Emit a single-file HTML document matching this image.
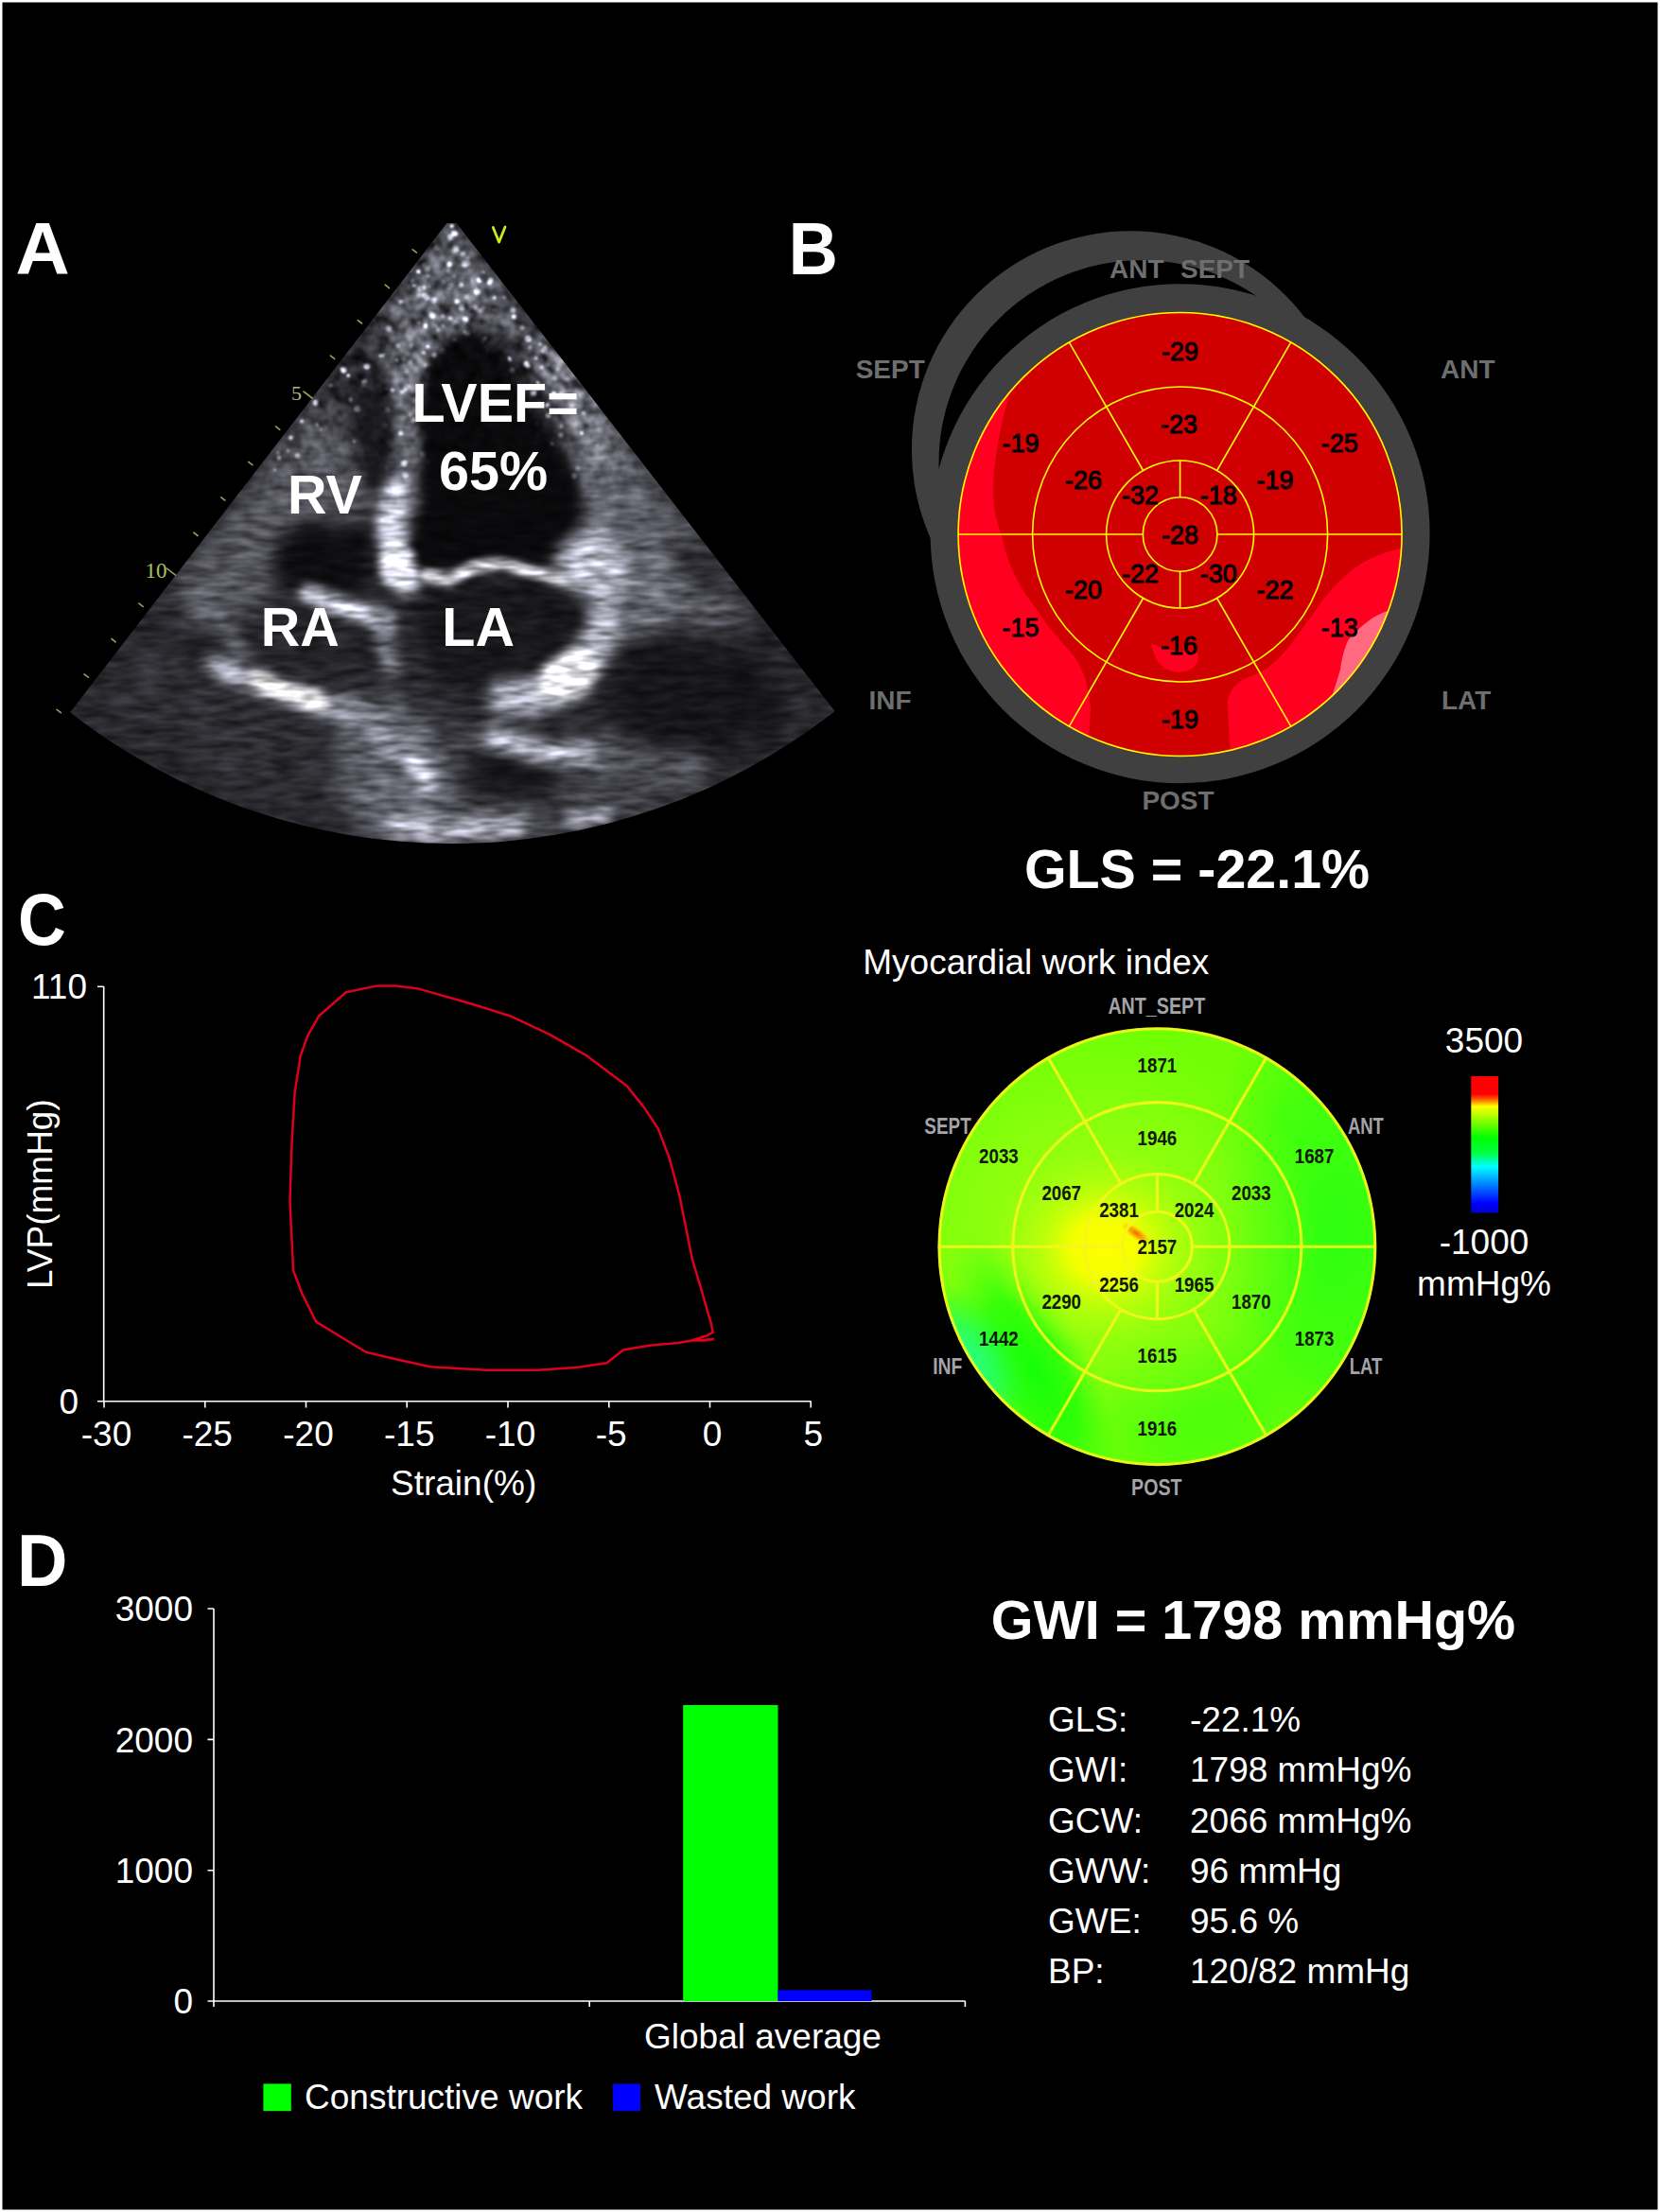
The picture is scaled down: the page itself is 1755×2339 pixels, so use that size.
<!DOCTYPE html><html><head><meta charset="utf-8"><title>Figure</title><style>html,body{margin:0;padding:0;background:#fff;overflow:hidden}svg{display:block}text{font-family:"Liberation Sans",Arial,sans-serif}</style></head><body>
<svg width="1755" height="2339" viewBox="0 0 1755 2339">
<rect x="2.5" y="2.5" width="1750" height="2334" fill="#000"/>
<text transform="translate(16.6,290) scale(1.07,1.045)" font-size="74" font-weight="bold" fill="#fff">A</text>
<text transform="translate(833.8,290) scale(0.975,1.045)" font-size="74" font-weight="bold" fill="#fff">B</text>
<text transform="translate(19.1,999.3) scale(0.95,1.045)" font-size="74" font-weight="bold" fill="#fff">C</text>
<text transform="translate(18.0,1676.8) scale(1.0,1.045)" font-size="74" font-weight="bold" fill="#fff">D</text>
<defs><clipPath id="sec"><path d="M472.5,236 L74.1,753.3 A656,656 0 0 0 882.6,752 L482.5,236 Z"/></clipPath>
<filter id="bd" filterUnits="userSpaceOnUse" x="0" y="150" width="1000" height="850" color-interpolation-filters="sRGB"><feGaussianBlur stdDeviation="1.3"/></filter>
<filter id="b3.5" filterUnits="userSpaceOnUse" x="0" y="150" width="1000" height="850" color-interpolation-filters="sRGB"><feGaussianBlur stdDeviation="3.5"/></filter>
<filter id="b5" filterUnits="userSpaceOnUse" x="0" y="150" width="1000" height="850" color-interpolation-filters="sRGB"><feGaussianBlur stdDeviation="5"/></filter>
<filter id="b6" filterUnits="userSpaceOnUse" x="0" y="150" width="1000" height="850" color-interpolation-filters="sRGB"><feGaussianBlur stdDeviation="6"/></filter>
<filter id="b7" filterUnits="userSpaceOnUse" x="0" y="150" width="1000" height="850" color-interpolation-filters="sRGB"><feGaussianBlur stdDeviation="7"/></filter>
<filter id="b8" filterUnits="userSpaceOnUse" x="0" y="150" width="1000" height="850" color-interpolation-filters="sRGB"><feGaussianBlur stdDeviation="8"/></filter>
<filter id="b9" filterUnits="userSpaceOnUse" x="0" y="150" width="1000" height="850" color-interpolation-filters="sRGB"><feGaussianBlur stdDeviation="9"/></filter>
<filter id="b10" filterUnits="userSpaceOnUse" x="0" y="150" width="1000" height="850" color-interpolation-filters="sRGB"><feGaussianBlur stdDeviation="10"/></filter>
<filter id="b12" filterUnits="userSpaceOnUse" x="0" y="150" width="1000" height="850" color-interpolation-filters="sRGB"><feGaussianBlur stdDeviation="12"/></filter>
<filter id="b14" filterUnits="userSpaceOnUse" x="0" y="150" width="1000" height="850" color-interpolation-filters="sRGB"><feGaussianBlur stdDeviation="14"/></filter>
<filter id="spkN" x="0" y="0" width="100%" height="100%" color-interpolation-filters="sRGB"><feTurbulence type="fractalNoise" baseFrequency="0.075 0.075" numOctaves="2" seed="7" result="n"/><feColorMatrix in="n" type="matrix" values="1 0 0 0 0  1 0 0 0 0  1 0 0 0 0  0 0 0 0 1" result="ng"/><feComposite in="SourceGraphic" in2="ng" operator="arithmetic" k1="2.3" k2="-0.12" k3="0" k4="0"/></filter>
<filter id="spkF" x="0" y="0" width="100%" height="100%" color-interpolation-filters="sRGB"><feTurbulence type="fractalNoise" baseFrequency="0.035 0.13" numOctaves="2" seed="11" result="n"/><feColorMatrix in="n" type="matrix" values="1 0 0 0 0  1 0 0 0 0  1 0 0 0 0  0 0 0 0 1" result="ng"/><feComposite in="SourceGraphic" in2="ng" operator="arithmetic" k1="1.3" k2="0.35" k3="0" k4="0"/></filter>
<linearGradient id="nm" x1="0" y1="0" x2="0" y2="1"><stop offset="0" stop-color="#fff"/><stop offset="0.27" stop-color="#fff"/><stop offset="0.5" stop-color="#000"/><stop offset="1" stop-color="#000"/></linearGradient>
<mask id="nearmask" maskUnits="userSpaceOnUse" x="40" y="220" width="880" height="700"><rect x="40" y="220" width="880" height="700" fill="url(#nm)"/></mask>
<g id="art">
<rect x="40" y="220" width="880" height="700" fill="rgb(40,40,45)"/>
<polygon points="477,236 400,340 420,420 470,360 540,345 600,420 640,520 700,520 560,345" fill="rgb(92,92,101)" filter="url(#b10)"/>
<polyline points="436,380 432,450 425,520 415,560" fill="none" stroke="rgb(112,112,122)" stroke-width="34" stroke-linecap="round" stroke-linejoin="round" filter="url(#b9)"/>
<polyline points="590,380 622,450 640,520 648,580" fill="none" stroke="rgb(112,112,122)" stroke-width="46" stroke-linecap="round" stroke-linejoin="round" filter="url(#b10)"/>
<polygon points="640,500 700,510 790,640 750,690 650,660 625,600" fill="rgb(92,92,101)" filter="url(#b14)"/>
<polygon points="345,420 262,520 175,632 205,668 285,640 296,575 380,552 402,520 375,470" fill="rgb(86,86,94)" filter="url(#b12)"/>
<polygon points="150,660 110,740 200,800 300,850 420,880 420,770 330,770 250,740" fill="rgb(46,46,51)" filter="url(#b14)"/>
<polygon points="420,760 420,890 560,892 700,860 760,800 640,780 520,770" fill="rgb(66,66,73)" filter="url(#b14)"/>
<g filter="url(#bd)"><circle cx="555.9" cy="449.1" r="3.3" fill="rgb(205,205,223)"/><circle cx="537.2" cy="498.2" r="1.8" fill="rgb(173,173,188)"/><circle cx="486.3" cy="370.1" r="1.6" fill="rgb(144,144,157)"/><circle cx="567.1" cy="378.7" r="1.9" fill="rgb(211,211,229)"/><circle cx="481.8" cy="247.4" r="2.0" fill="rgb(232,232,252)"/><circle cx="396.4" cy="488.2" r="2.6" fill="rgb(197,197,214)"/><circle cx="558.4" cy="358.2" r="3.3" fill="rgb(222,222,241)"/><circle cx="319.1" cy="445.7" r="2.2" fill="rgb(155,155,169)"/><circle cx="295.0" cy="484.2" r="2.3" fill="rgb(186,186,202)"/><circle cx="462.1" cy="261.7" r="3.3" fill="rgb(142,142,155)"/><circle cx="631.2" cy="470.7" r="2.2" fill="rgb(160,160,174)"/><circle cx="583.3" cy="469.6" r="1.7" fill="rgb(228,228,248)"/><circle cx="458.3" cy="317.5" r="3.3" fill="rgb(159,159,173)"/><circle cx="506.9" cy="340.2" r="1.9" fill="rgb(125,125,137)"/><circle cx="496.1" cy="367.5" r="2.4" fill="rgb(168,168,183)"/><circle cx="615.2" cy="417.8" r="3.4" fill="rgb(172,172,187)"/><circle cx="600.1" cy="401.8" r="2.7" fill="rgb(177,177,193)"/><circle cx="479.3" cy="265.1" r="2.8" fill="rgb(173,173,188)"/><circle cx="532.4" cy="480.0" r="2.2" fill="rgb(194,194,211)"/><circle cx="377.9" cy="432.4" r="3.3" fill="rgb(174,174,189)"/><circle cx="552.6" cy="460.5" r="1.9" fill="rgb(209,209,227)"/><circle cx="566.6" cy="449.2" r="2.9" fill="rgb(123,123,134)"/><circle cx="468.0" cy="344.0" r="2.0" fill="rgb(198,198,215)"/><circle cx="475.0" cy="287.0" r="2.7" fill="rgb(187,187,203)"/><circle cx="522.6" cy="327.6" r="1.7" fill="rgb(190,190,207)"/><circle cx="483.1" cy="319.1" r="2.6" fill="rgb(230,230,250)"/><circle cx="447.4" cy="480.3" r="2.8" fill="rgb(162,162,176)"/><circle cx="492.1" cy="337.8" r="3.3" fill="rgb(231,231,251)"/><circle cx="429.8" cy="446.6" r="1.6" fill="rgb(132,132,144)"/><circle cx="428.6" cy="502.3" r="3.2" fill="rgb(188,188,205)"/><circle cx="577.2" cy="373.6" r="2.3" fill="rgb(156,156,170)"/><circle cx="370.5" cy="422.5" r="2.4" fill="rgb(153,153,167)"/><circle cx="409.8" cy="433.0" r="3.0" fill="rgb(148,148,161)"/><circle cx="404.8" cy="375.7" r="2.1" fill="rgb(189,189,206)"/><circle cx="518.4" cy="422.0" r="2.9" fill="rgb(133,133,145)"/><circle cx="429.4" cy="392.5" r="2.4" fill="rgb(161,161,175)"/><circle cx="468.4" cy="371.7" r="3.2" fill="rgb(182,182,198)"/><circle cx="489.9" cy="268.6" r="2.6" fill="rgb(201,201,219)"/><circle cx="471.6" cy="450.7" r="2.3" fill="rgb(165,165,180)"/><circle cx="314.7" cy="482.0" r="2.9" fill="rgb(169,169,184)"/><circle cx="538.7" cy="380.5" r="1.9" fill="rgb(175,175,191)"/><circle cx="491.1" cy="341.8" r="1.7" fill="rgb(146,146,159)"/><circle cx="491.1" cy="279.2" r="3.4" fill="rgb(200,200,218)"/><circle cx="507.1" cy="295.7" r="2.8" fill="rgb(229,229,249)"/><circle cx="388.3" cy="409.7" r="1.7" fill="rgb(132,132,144)"/><circle cx="553.0" cy="440.8" r="1.8" fill="rgb(169,169,184)"/><circle cx="500.4" cy="387.4" r="3.3" fill="rgb(163,163,178)"/><circle cx="479.4" cy="450.5" r="2.6" fill="rgb(191,191,208)"/><circle cx="452.2" cy="366.7" r="1.9" fill="rgb(202,202,220)"/><circle cx="339.5" cy="454.5" r="1.8" fill="rgb(134,134,146)"/><circle cx="394.8" cy="444.1" r="2.5" fill="rgb(157,157,171)"/><circle cx="304.6" cy="477.0" r="1.7" fill="rgb(137,137,149)"/><circle cx="542.1" cy="328.0" r="3.1" fill="rgb(136,136,148)"/><circle cx="385.2" cy="403.7" r="2.8" fill="rgb(212,212,230)"/><circle cx="500.7" cy="443.9" r="2.3" fill="rgb(131,131,143)"/><circle cx="470.1" cy="490.6" r="1.6" fill="rgb(174,174,189)"/><circle cx="457.3" cy="343.7" r="3.2" fill="rgb(137,137,149)"/><circle cx="419.7" cy="380.7" r="1.7" fill="rgb(226,226,246)"/><circle cx="586.2" cy="400.0" r="2.8" fill="rgb(174,174,189)"/><circle cx="515.8" cy="381.7" r="1.9" fill="rgb(143,143,156)"/><circle cx="511.8" cy="368.4" r="2.8" fill="rgb(169,169,184)"/><circle cx="474.0" cy="492.0" r="1.7" fill="rgb(147,147,160)"/><circle cx="436.4" cy="297.2" r="1.9" fill="rgb(178,178,194)"/><circle cx="387.9" cy="387.3" r="3.3" fill="rgb(188,188,205)"/><circle cx="508.9" cy="401.7" r="3.2" fill="rgb(155,155,169)"/><circle cx="469.3" cy="314.4" r="2.0" fill="rgb(127,127,139)"/><circle cx="428.1" cy="411.1" r="2.6" fill="rgb(223,223,242)"/><circle cx="563.8" cy="415.5" r="3.3" fill="rgb(203,203,221)"/><circle cx="397.5" cy="462.1" r="2.3" fill="rgb(134,134,146)"/><circle cx="444.0" cy="305.3" r="2.8" fill="rgb(152,152,166)"/><circle cx="503.7" cy="304.1" r="1.6" fill="rgb(125,125,137)"/><circle cx="456.8" cy="333.4" r="3.3" fill="rgb(190,190,207)"/><circle cx="363.1" cy="391.2" r="3.1" fill="rgb(203,203,221)"/><circle cx="458.9" cy="463.4" r="3.0" fill="rgb(133,133,145)"/><circle cx="572.8" cy="388.0" r="2.4" fill="rgb(170,170,185)"/><circle cx="433.5" cy="438.5" r="2.0" fill="rgb(160,160,174)"/><circle cx="575.2" cy="370.5" r="3.1" fill="rgb(191,191,208)"/><circle cx="385.1" cy="406.9" r="2.5" fill="rgb(124,124,135)"/><circle cx="410.8" cy="347.2" r="3.2" fill="rgb(142,142,155)"/><circle cx="524.6" cy="486.8" r="2.3" fill="rgb(121,121,132)"/><circle cx="450.8" cy="386.8" r="2.9" fill="rgb(165,165,180)"/><circle cx="606.5" cy="503.6" r="2.8" fill="rgb(197,197,214)"/><circle cx="497.1" cy="397.1" r="2.9" fill="rgb(155,155,169)"/><circle cx="504.4" cy="308.5" r="3.3" fill="rgb(223,223,242)"/><circle cx="592.9" cy="459.9" r="2.7" fill="rgb(144,144,157)"/><circle cx="475.7" cy="250.7" r="2.8" fill="rgb(223,223,242)"/><circle cx="502.4" cy="325.1" r="2.9" fill="rgb(163,163,178)"/><circle cx="503.2" cy="375.7" r="1.9" fill="rgb(192,192,209)"/><circle cx="579.5" cy="439.1" r="2.9" fill="rgb(167,167,182)"/><circle cx="485.2" cy="412.1" r="2.1" fill="rgb(152,152,166)"/><circle cx="451.7" cy="283.1" r="2.7" fill="rgb(141,141,154)"/><circle cx="494.2" cy="353.8" r="2.8" fill="rgb(203,203,221)"/><circle cx="476.0" cy="302.9" r="3.3" fill="rgb(156,156,170)"/><circle cx="532.7" cy="485.0" r="2.0" fill="rgb(200,200,218)"/><circle cx="562.2" cy="471.1" r="3.0" fill="rgb(202,202,220)"/><circle cx="448.1" cy="304.5" r="2.4" fill="rgb(198,198,215)"/><circle cx="437.6" cy="444.6" r="2.5" fill="rgb(230,230,250)"/><circle cx="436.1" cy="422.9" r="3.3" fill="rgb(163,163,178)"/><circle cx="477.2" cy="381.5" r="3.0" fill="rgb(186,186,202)"/><circle cx="441.4" cy="382.9" r="2.5" fill="rgb(125,125,137)"/><circle cx="407.9" cy="411.1" r="1.7" fill="rgb(151,151,165)"/><circle cx="474.7" cy="319.7" r="2.6" fill="rgb(164,164,179)"/><circle cx="294.0" cy="479.1" r="2.2" fill="rgb(121,121,132)"/><circle cx="451.8" cy="314.9" r="2.8" fill="rgb(178,178,194)"/><circle cx="467.8" cy="298.2" r="2.4" fill="rgb(188,188,205)"/><circle cx="442.5" cy="287.3" r="2.3" fill="rgb(220,220,239)"/><circle cx="583.2" cy="505.9" r="1.9" fill="rgb(209,209,227)"/><circle cx="603.0" cy="411.4" r="2.0" fill="rgb(168,168,183)"/><circle cx="494.2" cy="272.7" r="2.7" fill="rgb(135,135,147)"/><circle cx="560.5" cy="367.3" r="1.7" fill="rgb(141,141,154)"/><circle cx="414.9" cy="412.8" r="2.3" fill="rgb(209,209,227)"/><circle cx="480.4" cy="341.3" r="2.9" fill="rgb(130,130,142)"/><circle cx="496.6" cy="325.9" r="2.3" fill="rgb(174,174,189)"/><circle cx="307.5" cy="462.8" r="2.4" fill="rgb(177,177,193)"/><circle cx="520.1" cy="417.1" r="2.3" fill="rgb(180,180,196)"/><circle cx="629.4" cy="464.0" r="3.4" fill="rgb(154,154,168)"/><circle cx="476.1" cy="396.0" r="2.0" fill="rgb(172,172,187)"/><circle cx="437.8" cy="302.0" r="1.9" fill="rgb(231,231,251)"/><circle cx="430.7" cy="374.5" r="2.9" fill="rgb(150,150,164)"/><circle cx="453.8" cy="488.8" r="1.9" fill="rgb(135,135,147)"/><circle cx="498.9" cy="297.5" r="1.6" fill="rgb(124,124,135)"/><circle cx="475.4" cy="481.1" r="1.7" fill="rgb(187,187,203)"/><circle cx="507.9" cy="328.5" r="2.7" fill="rgb(145,145,158)"/><circle cx="518.9" cy="419.2" r="2.9" fill="rgb(127,127,139)"/><circle cx="480.1" cy="246.5" r="3.2" fill="rgb(173,173,188)"/><circle cx="476.2" cy="336.6" r="2.4" fill="rgb(185,185,201)"/><circle cx="487.9" cy="425.7" r="2.6" fill="rgb(196,196,213)"/><circle cx="552.9" cy="410.9" r="2.1" fill="rgb(132,132,144)"/><circle cx="448.0" cy="373.5" r="2.1" fill="rgb(192,192,209)"/><circle cx="518.8" cy="296.3" r="2.7" fill="rgb(203,203,221)"/><circle cx="423.7" cy="319.6" r="2.3" fill="rgb(220,220,239)"/><circle cx="593.9" cy="498.2" r="2.5" fill="rgb(131,131,143)"/><circle cx="604.6" cy="429.1" r="2.4" fill="rgb(131,131,143)"/><circle cx="533.6" cy="314.1" r="2.4" fill="rgb(151,151,165)"/><circle cx="480.2" cy="359.5" r="2.3" fill="rgb(192,192,209)"/><circle cx="408.6" cy="494.8" r="2.6" fill="rgb(136,136,148)"/><circle cx="517.4" cy="298.5" r="2.4" fill="rgb(225,225,245)"/><circle cx="513.1" cy="357.6" r="1.8" fill="rgb(234,234,254)"/><circle cx="510.2" cy="416.4" r="1.9" fill="rgb(200,200,218)"/><circle cx="368.4" cy="397.2" r="1.8" fill="rgb(207,207,225)"/><circle cx="499.2" cy="392.6" r="2.5" fill="rgb(220,220,239)"/><circle cx="563.0" cy="454.5" r="1.6" fill="rgb(228,228,248)"/><circle cx="558.0" cy="386.9" r="2.4" fill="rgb(216,216,235)"/><circle cx="423.4" cy="458.0" r="2.5" fill="rgb(201,201,219)"/><circle cx="333.7" cy="425.9" r="3.0" fill="rgb(216,216,235)"/><circle cx="480.4" cy="292.1" r="1.8" fill="rgb(143,143,156)"/><circle cx="483.1" cy="263.1" r="2.9" fill="rgb(177,177,193)"/><circle cx="425.2" cy="414.0" r="2.3" fill="rgb(188,188,205)"/><circle cx="454.1" cy="303.0" r="1.9" fill="rgb(126,126,138)"/><circle cx="489.3" cy="268.5" r="2.4" fill="rgb(170,170,185)"/><circle cx="495.2" cy="278.5" r="2.7" fill="rgb(216,216,235)"/><circle cx="547.0" cy="447.6" r="2.7" fill="rgb(122,122,133)"/><circle cx="476.2" cy="251.5" r="2.9" fill="rgb(164,164,179)"/><circle cx="552.1" cy="346.0" r="2.8" fill="rgb(144,144,157)"/><circle cx="474.8" cy="279.8" r="2.8" fill="rgb(218,218,237)"/><circle cx="566.8" cy="459.1" r="3.3" fill="rgb(211,211,229)"/><circle cx="519.7" cy="410.2" r="3.2" fill="rgb(202,202,220)"/><circle cx="514.5" cy="371.1" r="1.9" fill="rgb(181,181,197)"/><circle cx="616.8" cy="436.2" r="2.2" fill="rgb(226,226,246)"/><circle cx="487.2" cy="301.3" r="2.5" fill="rgb(212,212,230)"/><circle cx="592.7" cy="417.4" r="2.6" fill="rgb(139,139,152)"/><circle cx="461.5" cy="412.3" r="2.0" fill="rgb(153,153,167)"/><circle cx="508.9" cy="362.5" r="1.8" fill="rgb(203,203,221)"/><circle cx="430.7" cy="408.3" r="3.0" fill="rgb(155,155,169)"/><circle cx="493.6" cy="313.6" r="2.7" fill="rgb(124,124,135)"/><circle cx="442.7" cy="341.0" r="1.7" fill="rgb(197,197,214)"/><circle cx="458.4" cy="319.6" r="1.8" fill="rgb(159,159,173)"/><circle cx="511.2" cy="359.4" r="1.8" fill="rgb(219,219,238)"/><circle cx="426.2" cy="380.3" r="2.5" fill="rgb(159,159,173)"/><circle cx="578.5" cy="428.2" r="2.4" fill="rgb(195,195,212)"/><circle cx="468.6" cy="334.0" r="2.2" fill="rgb(161,161,175)"/><circle cx="511.2" cy="325.0" r="1.7" fill="rgb(129,129,141)"/><circle cx="407.4" cy="449.7" r="1.7" fill="rgb(172,172,187)"/><circle cx="450.3" cy="344.6" r="2.5" fill="rgb(218,218,237)"/><circle cx="522.6" cy="483.7" r="1.9" fill="rgb(174,174,189)"/><circle cx="427.3" cy="490.0" r="3.3" fill="rgb(228,228,248)"/><circle cx="568.7" cy="404.7" r="1.8" fill="rgb(205,205,223)"/><circle cx="462.6" cy="348.4" r="2.3" fill="rgb(149,149,162)"/><circle cx="571.5" cy="363.9" r="2.0" fill="rgb(172,172,187)"/><circle cx="451.3" cy="284.7" r="3.4" fill="rgb(155,155,169)"/><circle cx="576.3" cy="505.4" r="3.1" fill="rgb(210,210,228)"/><circle cx="444.7" cy="305.1" r="2.5" fill="rgb(121,121,132)"/><circle cx="556.2" cy="385.0" r="2.9" fill="rgb(204,204,222)"/><circle cx="449.0" cy="312.7" r="3.3" fill="rgb(176,176,192)"/><circle cx="593.7" cy="451.0" r="2.1" fill="rgb(137,137,149)"/><circle cx="480.3" cy="261.5" r="1.6" fill="rgb(154,154,168)"/><circle cx="420.3" cy="365.0" r="2.7" fill="rgb(152,152,166)"/><circle cx="374.3" cy="466.8" r="1.8" fill="rgb(188,188,205)"/><circle cx="442.5" cy="311.9" r="2.6" fill="rgb(130,130,142)"/><circle cx="509.9" cy="438.0" r="2.2" fill="rgb(152,152,166)"/><circle cx="505.9" cy="421.2" r="1.8" fill="rgb(171,171,186)"/><circle cx="461.3" cy="344.5" r="1.7" fill="rgb(160,160,174)"/><circle cx="435.0" cy="365.1" r="2.4" fill="rgb(149,149,162)"/><circle cx="558.9" cy="433.9" r="2.7" fill="rgb(125,125,137)"/><circle cx="532.2" cy="447.6" r="2.9" fill="rgb(201,201,219)"/><circle cx="335.4" cy="448.7" r="2.0" fill="rgb(176,176,192)"/><circle cx="543.5" cy="431.4" r="2.4" fill="rgb(228,228,248)"/><circle cx="495.6" cy="415.7" r="2.2" fill="rgb(202,202,220)"/><circle cx="490.7" cy="454.0" r="3.1" fill="rgb(136,136,148)"/><circle cx="510.5" cy="424.3" r="3.3" fill="rgb(212,212,230)"/><circle cx="541.1" cy="392.0" r="2.8" fill="rgb(193,193,210)"/><circle cx="559.6" cy="487.2" r="2.5" fill="rgb(176,176,192)"/><circle cx="452.7" cy="291.6" r="2.1" fill="rgb(154,154,168)"/><circle cx="478.1" cy="238.9" r="2.2" fill="rgb(208,208,226)"/><circle cx="506.0" cy="382.2" r="1.8" fill="rgb(180,180,196)"/><circle cx="402.4" cy="376.0" r="1.8" fill="rgb(170,170,185)"/><circle cx="492.9" cy="472.3" r="2.2" fill="rgb(228,228,248)"/><circle cx="509.7" cy="292.4" r="1.6" fill="rgb(149,149,162)"/><circle cx="591.9" cy="420.3" r="1.9" fill="rgb(233,233,253)"/><circle cx="579.2" cy="386.4" r="2.2" fill="rgb(209,209,227)"/><circle cx="576.0" cy="367.7" r="2.5" fill="rgb(197,197,214)"/><circle cx="349.9" cy="407.9" r="2.2" fill="rgb(146,146,159)"/><circle cx="522.8" cy="314.8" r="2.1" fill="rgb(202,202,220)"/><circle cx="510.1" cy="293.9" r="2.8" fill="rgb(125,125,137)"/><circle cx="567.5" cy="412.2" r="2.0" fill="rgb(146,146,159)"/><circle cx="585.6" cy="416.2" r="2.5" fill="rgb(210,210,228)"/><circle cx="543.4" cy="334.9" r="2.5" fill="rgb(221,221,240)"/><circle cx="611.1" cy="495.6" r="2.9" fill="rgb(128,128,140)"/><circle cx="511.0" cy="378.8" r="2.8" fill="rgb(124,124,135)"/><circle cx="459.0" cy="375.5" r="2.7" fill="rgb(206,206,224)"/><circle cx="290.7" cy="496.8" r="1.8" fill="rgb(142,142,155)"/><circle cx="511.0" cy="287.7" r="2.2" fill="rgb(167,167,182)"/><circle cx="538.0" cy="378.6" r="1.9" fill="rgb(221,221,240)"/><circle cx="433.6" cy="383.4" r="2.5" fill="rgb(176,176,192)"/><circle cx="468.4" cy="458.7" r="2.4" fill="rgb(211,211,229)"/><circle cx="448.1" cy="279.6" r="2.2" fill="rgb(170,170,185)"/><circle cx="615.3" cy="458.0" r="2.0" fill="rgb(233,233,253)"/><circle cx="491.5" cy="351.7" r="2.1" fill="rgb(222,222,241)"/><circle cx="589.7" cy="391.2" r="2.4" fill="rgb(184,184,200)"/><circle cx="488.4" cy="325.2" r="3.4" fill="rgb(191,191,208)"/></g>
<polygon points="492,350 510,353 535,380 549,404 568,436 585,469 600,490 611,515 612,540 606,562 594,582 578,597 560,600 520,590 480,600 458,602 440,596 432,578 440,560 448,530 446,500 444,447 448,404 457,378 475,357" fill="rgb(10,10,12)" filter="url(#b6)"/>
<polygon points="380,400 402,395 416,450 413,515 396,528 376,480" fill="rgb(26,26,30)" filter="url(#b8)"/>
<polygon points="300,560 340,552 385,560 392,600 385,628 340,632 300,622 290,590" fill="rgb(14,14,17)" filter="url(#b10)"/>
<ellipse cx="330" cy="672" rx="60" ry="36" transform="rotate(10 330 672)" fill="rgb(36,36,40)" filter="url(#b9)"/>
<ellipse cx="218" cy="692" rx="26" ry="22" transform="rotate(30 218 692)" fill="rgb(30,30,34)" filter="url(#b10)"/>
<polygon points="452,625 500,612 560,612 610,622 628,660 610,705 570,725 510,728 462,715 440,680 440,645" fill="rgb(24,24,27)" filter="url(#b8)"/>
<polygon points="660,680 720,660 800,690 840,760 760,800 680,790 640,740" fill="rgb(22,22,25)" filter="url(#b14)"/>
<ellipse cx="540" cy="820" rx="56" ry="28" transform="rotate(5 540 820)" fill="rgb(24,24,27)" filter="url(#b10)"/>
<ellipse cx="740" cy="600" rx="40" ry="22" transform="rotate(40 740 600)" fill="rgb(40,40,45)" filter="url(#b12)"/>
<polyline points="450,608 475,613 500,600 530,596 560,604 590,611 612,616" fill="none" stroke="rgb(245,245,255)" stroke-width="11" stroke-linecap="round" stroke-linejoin="round" filter="url(#b3.5)"/>
<polyline points="418,520 412,560 420,595 430,615" fill="none" stroke="rgb(215,215,234)" stroke-width="26" stroke-linecap="round" stroke-linejoin="round" filter="url(#b6)"/>
<ellipse cx="420" cy="600" rx="18" ry="24" transform="rotate(0 420 600)" fill="rgb(240,240,255)" filter="url(#b5)"/>
<polyline points="325,628 366,643 408,657" fill="none" stroke="rgb(235,235,255)" stroke-width="17" stroke-linecap="round" stroke-linejoin="round" filter="url(#b6)"/>
<polyline points="402,652 408,680 414,706" fill="none" stroke="rgb(125,125,137)" stroke-width="18" stroke-linecap="round" stroke-linejoin="round" filter="url(#b7)"/>
<polyline points="213,632 240,668 258,696" fill="none" stroke="rgb(100,100,110)" stroke-width="15" stroke-linecap="round" stroke-linejoin="round" filter="url(#b7)"/>
<polyline points="222,703 270,722 330,742 378,758" fill="none" stroke="rgb(175,175,191)" stroke-width="20" stroke-linecap="round" stroke-linejoin="round" filter="url(#b7)"/>
<polyline points="272,719 305,732 340,743" fill="none" stroke="rgb(255,255,255)" stroke-width="17" stroke-linecap="round" stroke-linejoin="round" filter="url(#b5)"/>
<polyline points="626,575 648,629 638,670 608,715 574,734 535,738" fill="none" stroke="rgb(185,185,201)" stroke-width="36" stroke-linecap="round" stroke-linejoin="round" filter="url(#b8)"/>
<polygon points="640,560 700,580 720,640 690,670 650,660 635,610" fill="rgb(105,105,115)" filter="url(#b10)"/>
<ellipse cx="600" cy="714" rx="34" ry="22" transform="rotate(-35 600 714)" fill="rgb(250,250,255)" filter="url(#b6)"/>
<ellipse cx="628" cy="600" rx="40" ry="30" transform="rotate(20 628 600)" fill="rgb(185,185,201)" filter="url(#b9)"/>
<polygon points="365,735 440,745 470,800 480,892 400,885 360,850" fill="rgb(100,100,110)" filter="url(#b12)"/>
<polyline points="520,780 580,797 636,797" fill="none" stroke="rgb(195,195,212)" stroke-width="20" stroke-linecap="round" stroke-linejoin="round" filter="url(#b7)"/>
<polyline points="368,748 410,785 436,806 456,828" fill="none" stroke="rgb(150,150,164)" stroke-width="20" stroke-linecap="round" stroke-linejoin="round" filter="url(#b8)"/>
<polyline points="436,806 455,827" fill="none" stroke="rgb(200,200,218)" stroke-width="16" stroke-linecap="round" stroke-linejoin="round" filter="url(#b6)"/>
<polyline points="415,874 480,878 550,874" fill="none" stroke="rgb(185,185,201)" stroke-width="22" stroke-linecap="round" stroke-linejoin="round" filter="url(#b8)"/>
<polyline points="603,868 640,862" fill="none" stroke="rgb(170,170,185)" stroke-width="14" stroke-linecap="round" stroke-linejoin="round" filter="url(#b6)"/>
<polyline points="640,800 740,815" fill="none" stroke="rgb(80,80,88)" stroke-width="30" stroke-linecap="round" stroke-linejoin="round" filter="url(#b10)"/>
</g></defs>
<g clip-path="url(#sec)"><use href="#art" filter="url(#spkF)"/><g mask="url(#nearmask)"><use href="#art" filter="url(#spkN)"/></g></g>
<g stroke="#9a9e5c" stroke-width="1.6" stroke-linecap="round">
<line x1="436.2" y1="263.8" x2="440.4" y2="267.1"/>
<line x1="407.2" y1="301.2" x2="411.5" y2="304.6"/>
<line x1="378.3" y1="338.7" x2="382.6" y2="342.0"/>
<line x1="349.4" y1="376.1" x2="353.6" y2="379.4"/>
<line x1="321.0" y1="414.0" x2="330.1" y2="421.0"/>
<line x1="291.5" y1="450.9" x2="295.8" y2="454.3"/>
<line x1="262.6" y1="488.4" x2="266.9" y2="491.7"/>
<line x1="233.7" y1="525.8" x2="237.9" y2="529.1"/>
<line x1="204.8" y1="563.2" x2="209.0" y2="566.5"/>
<line x1="176.4" y1="601.1" x2="185.5" y2="608.1"/>
<line x1="146.9" y1="638.1" x2="151.2" y2="641.4"/>
<line x1="118.0" y1="675.5" x2="122.2" y2="678.8"/>
<line x1="89.0" y1="712.9" x2="93.3" y2="716.2"/>
<line x1="60.1" y1="750.3" x2="64.4" y2="753.6"/>
</g>
<text x="308" y="423" font-size="22" fill="#b4b488" style="font-family:'Liberation Serif',serif">5</text>
<text x="153.5" y="610.5" font-size="23" fill="#a6c45c" style="font-family:'Liberation Serif',serif">10</text>
<path d="M521.3,240.5 L527.6,256 L534,240" fill="none" stroke="#c6ee1c" stroke-width="2.8" stroke-linejoin="round" stroke-linecap="round"/>
<text x="435.5" y="445.8" font-size="57.5" font-weight="bold" fill="#fff" text-anchor="start" >LVEF=</text>
<text x="464" y="517.6" font-size="57.5" font-weight="bold" fill="#fff" text-anchor="start" >65%</text>
<text x="304" y="543.3" font-size="57.5" font-weight="bold" fill="#fff" text-anchor="start" >RV</text>
<text x="275.8" y="682.6" font-size="57.5" font-weight="bold" fill="#fff" text-anchor="start" >RA</text>
<text x="467.3" y="682.6" font-size="57.5" font-weight="bold" fill="#fff" text-anchor="start" >LA</text>
<circle cx="1247.6" cy="564.2" r="264" fill="#404040"/>
<path fill="#404040" fill-rule="evenodd" d="M963.9,475.5 a231.3,231.3 0 1 0 462.6,0 a231.3,231.3 0 1 0 -462.6,0 Z M992.5,489.4 a214.2,214.2 0 1 0 428.4,0 a214.2,214.2 0 1 0 -428.4,0 Z"/>
<defs><clipPath id="bclip"><circle cx="1247.6" cy="565.0" r="235.3"/></clipPath></defs>
<g clip-path="url(#bclip)"><circle cx="1247.6" cy="565.0" r="236.0" fill="#d00000"/>
<path fill="#ff0020" d="M1080,380 L1064.7,426 C1058,450 1052,480 1050.2,509 C1049,535 1054,555 1059.3,567 C1062,580 1066,600 1084.6,628.4 L1109.9,664.6 L1135.2,693.5 C1146,708 1152,730 1153.2,751 L1151,780 L1100,800 L1000,700 L1000,400 Z"/>
<path fill="#ff0020" d="M1490,575 L1481,579.6 C1465,584 1455,588 1446,592.3 C1435,598 1425,606 1417,614 C1408,622 1400,632 1395.4,639.3 L1366.5,679 C1358,690 1348,701 1337.6,708 C1328,714 1316,716 1308.6,722.4 C1300,730 1298,738 1297.8,744 L1299.6,780 L1302,810 L1500,810 Z"/>
<path fill="#ff6a80" d="M1480,640 L1465.8,646.5 C1456,650 1450,654 1446,657.3 C1436,665 1428,672 1424.3,679 C1420,690 1418,700 1417,708 L1409.8,731.4 L1405,745 L1500,745 Z"/>
<path fill="#ff0020" d="M1217,680 C1219,692 1224,702 1232,707 C1242,712 1254,712 1262,706 C1268,700 1268,692 1264,688 C1250,690 1232,688 1217,680 Z"/>
</g>
<g stroke="#ffff00" stroke-width="1.6" fill="none">
<circle cx="1247.6" cy="565.0" r="39.3"/>
<circle cx="1247.6" cy="565.0" r="78"/>
<circle cx="1247.6" cy="565.0" r="156"/>
<circle cx="1247.6" cy="565.0" r="234.5"/>
<line x1="1325.6" y1="565.0" x2="1482.1" y2="565.0"/>
<line x1="1286.6" y1="497.5" x2="1364.8" y2="361.9"/>
<line x1="1208.6" y1="497.5" x2="1130.3" y2="361.9"/>
<line x1="1169.6" y1="565.0" x2="1013.1" y2="565.0"/>
<line x1="1208.6" y1="632.5" x2="1130.3" y2="768.1"/>
<line x1="1286.6" y1="632.5" x2="1364.8" y2="768.1"/>
<line x1="1286.9" y1="565.0" x2="1325.6" y2="565.0"/>
<line x1="1247.6" y1="525.7" x2="1247.6" y2="487.0"/>
<line x1="1208.3" y1="565.0" x2="1169.6" y2="565.0"/>
<line x1="1247.6" y1="604.3" x2="1247.6" y2="643.0"/>
</g>
<g font-size="27" fill="#000" stroke="#000" stroke-width="0.9" text-anchor="middle">
<text x="1247.6" y="574.7">-28</text>
<text x="1205.6" y="533.3">-32</text>
<text x="1288.2" y="533.3">-18</text>
<text x="1205.6" y="616.0">-22</text>
<text x="1288.2" y="616.0">-30</text>
<text x="1246.6" y="458.2">-23</text>
<text x="1145.6" y="516.7">-26</text>
<text x="1348.0" y="516.7">-19</text>
<text x="1145.6" y="632.7">-20</text>
<text x="1348.0" y="632.7">-22</text>
<text x="1246.6" y="691.9">-16</text>
<text x="1247.6" y="380.7">-29</text>
<text x="1079.0" y="478.1">-19</text>
<text x="1416.2" y="478.1">-25</text>
<text x="1079.0" y="673.3">-15</text>
<text x="1416.2" y="673.3">-13</text>
<text x="1247.6" y="769.7">-19</text>
</g>
<text x="1173" y="294" font-size="28" font-weight="bold" fill="#6e6e6e" text-anchor="start" >ANT</text>
<text x="1248" y="294" font-size="28" font-weight="bold" fill="#6e6e6e" text-anchor="start" >SEPT</text>
<text x="904.7" y="399.5" font-size="28" font-weight="bold" fill="#6e6e6e" text-anchor="start" >SEPT</text>
<text x="1523" y="399.5" font-size="28" font-weight="bold" fill="#6e6e6e" text-anchor="start" >ANT</text>
<text x="918.4" y="750.4" font-size="28" font-weight="bold" fill="#6e6e6e" text-anchor="start" >INF</text>
<text x="1524" y="750.4" font-size="28" font-weight="bold" fill="#6e6e6e" text-anchor="start" >LAT</text>
<text x="1207.4" y="856.2" font-size="28" font-weight="bold" fill="#6e6e6e" text-anchor="start" >POST</text>
<text x="1082.9" y="938.5" font-size="57.4" font-weight="bold" fill="#fff" text-anchor="start" >GLS = -22.1%</text>
<g stroke="#fff" stroke-width="1.6" fill="none">
<path d="M109.7,1043 V1482 M103,1043.3 H109.7 M103,1481.7 H857.5"/>
<line x1="110.0" y1="1481.7" x2="110.0" y2="1488.5"/>
<line x1="216.8" y1="1481.7" x2="216.8" y2="1488.5"/>
<line x1="323.5" y1="1481.7" x2="323.5" y2="1488.5"/>
<line x1="430.2" y1="1481.7" x2="430.2" y2="1488.5"/>
<line x1="537.0" y1="1481.7" x2="537.0" y2="1488.5"/>
<line x1="643.8" y1="1481.7" x2="643.8" y2="1488.5"/>
<line x1="750.5" y1="1481.7" x2="750.5" y2="1488.5"/>
<line x1="857.2" y1="1481.7" x2="857.2" y2="1488.5"/>
</g>
<text x="112.5" y="1528.5" font-size="37" font-weight="normal" fill="#fff" text-anchor="middle" >-30</text>
<text x="219.2" y="1528.5" font-size="37" font-weight="normal" fill="#fff" text-anchor="middle" >-25</text>
<text x="326.0" y="1528.5" font-size="37" font-weight="normal" fill="#fff" text-anchor="middle" >-20</text>
<text x="432.8" y="1528.5" font-size="37" font-weight="normal" fill="#fff" text-anchor="middle" >-15</text>
<text x="539.5" y="1528.5" font-size="37" font-weight="normal" fill="#fff" text-anchor="middle" >-10</text>
<text x="646.2" y="1528.5" font-size="37" font-weight="normal" fill="#fff" text-anchor="middle" >-5</text>
<text x="753.0" y="1528.5" font-size="37" font-weight="normal" fill="#fff" text-anchor="middle" >0</text>
<text x="859.8" y="1528.5" font-size="37" font-weight="normal" fill="#fff" text-anchor="middle" >5</text>
<text x="92" y="1056" font-size="37" font-weight="normal" fill="#fff" text-anchor="end" >110</text>
<text x="83" y="1495" font-size="37" font-weight="normal" fill="#fff" text-anchor="end" >0</text>
<text x="413" y="1581" font-size="37" font-weight="normal" fill="#fff" text-anchor="start" >Strain(%)</text>
<text transform="translate(55,1363) rotate(-90)" font-size="37" fill="#fff">LVP(mmHg)</text>
<path d="M306.5,1270 L308.6,1206.7 L311.6,1155.5 L317.7,1116.4 L325.2,1095.3 L337.2,1074.2 L365.8,1049.2 L397.5,1042.6 L418.6,1042.6 L442.7,1045.6 L490.8,1059.2 L539,1074.2 L581.2,1093.8 L620.4,1116.4 L662.5,1148 L680.6,1170.6 L695.7,1193.2 L707.7,1224.8 L718.3,1264 L725.8,1301.2 L731.8,1331.3 L740.8,1361.4 L748.9,1389.6 L751.8,1399.3 L753.7,1408.9 L746,1412.8 L731.6,1417.1 L745,1416.8 L754,1416 L745,1417.6 L731.6,1417.6 L717.1,1420 L688.2,1422.4 L659.3,1427.2 L641.4,1441.2 L611.3,1445.8 L569.2,1448.8 L514.9,1448.8 L454.7,1445.2 L418.6,1437.3 L386.9,1429.8 L361.3,1414.2 L334.2,1397.6 L319.2,1367.5 L310.1,1343.4 L307.7,1295.2 Z" fill="none" stroke="#dc001c" stroke-width="2.5" stroke-linejoin="round"/>
<defs><clipPath id="cclip"><circle cx="1223.4" cy="1318.2" r="231.6"/></clipPath><radialGradient id="gy" cx="0.5" cy="0.5" r="0.5"><stop offset="0" stop-color="#ffff00"/><stop offset="0.3" stop-color="#f4ff00"/><stop offset="0.55" stop-color="#c8ff08" stop-opacity="0.75"/><stop offset="1" stop-color="#a0ff10" stop-opacity="0"/></radialGradient><radialGradient id="gyg" cx="0.5" cy="0.5" r="0.5"><stop offset="0" stop-color="#a8ff10"/><stop offset="0.6" stop-color="#90ff10" stop-opacity="0.7"/><stop offset="1" stop-color="#80ff10" stop-opacity="0"/></radialGradient><radialGradient id="gg" cx="0.5" cy="0.5" r="0.5"><stop offset="0" stop-color="#2cff10"/><stop offset="0.6" stop-color="#34ff10" stop-opacity="0.7"/><stop offset="1" stop-color="#40ff10" stop-opacity="0"/></radialGradient><radialGradient id="gdk" cx="0.5" cy="0.5" r="0.5"><stop offset="0" stop-color="#00ff08"/><stop offset="0.5" stop-color="#10ff08" stop-opacity="0.8"/><stop offset="1" stop-color="#40ff10" stop-opacity="0"/></radialGradient><radialGradient id="gcy" cx="0.5" cy="0.5" r="0.5"><stop offset="0" stop-color="#20ffa0"/><stop offset="0.5" stop-color="#20ff60" stop-opacity="0.8"/><stop offset="1" stop-color="#20ff20" stop-opacity="0"/></radialGradient><radialGradient id="gor" cx="0.5" cy="0.5" r="0.5"><stop offset="0" stop-color="#f04000"/><stop offset="0.5" stop-color="#ff9000" stop-opacity="0.8"/><stop offset="1" stop-color="#ffe000" stop-opacity="0"/></radialGradient></defs>
<g clip-path="url(#cclip)">
<circle cx="1223.4" cy="1318.2" r="231.6" fill="#70ff04"/>
<ellipse cx="1413.4" cy="1298.2" rx="150" ry="260" fill="url(#gg)"/>
<ellipse cx="1263.4" cy="1488.2" rx="120" ry="90" fill="url(#gg)" opacity="0.6"/>
<ellipse cx="1153.4" cy="1308.2" rx="240" ry="230" fill="url(#gyg)"/>
<ellipse cx="1093.4" cy="1448.2" rx="60" ry="160" transform="rotate(-28 1093.4 1448.2)" fill="url(#gdk)" opacity="0.85"/>
<ellipse cx="1018.4000000000001" cy="1443.2" rx="62" ry="95" transform="rotate(-30 1018.4000000000001 1443.2)" fill="url(#gcy)"/>
<ellipse cx="1168.4" cy="1320.2" rx="120" ry="110" fill="url(#gy)"/>
<ellipse cx="1201.4" cy="1304.2" rx="20" ry="7" transform="rotate(35 1201.4 1304.2)" fill="url(#gor)" opacity="0.8"/>
</g>
<defs><filter id="lb" x="-5%" y="-5%" width="110%" height="110%"><feGaussianBlur stdDeviation="0.7"/></filter></defs>
<g stroke="#f6f61c" stroke-width="3.1" fill="none" filter="url(#lb)" opacity="0.92">
<circle cx="1223.4" cy="1318.2" r="37"/>
<circle cx="1223.4" cy="1318.2" r="76.6"/>
<circle cx="1223.4" cy="1318.2" r="152.6"/>
<circle cx="1223.4" cy="1318.2" r="230.4"/>
<line x1="1300.0" y1="1318.2" x2="1455.0" y2="1318.2"/>
<line x1="1261.7" y1="1251.9" x2="1339.2" y2="1117.6"/>
<line x1="1185.1" y1="1251.9" x2="1107.6" y2="1117.6"/>
<line x1="1146.8" y1="1318.2" x2="991.8" y2="1318.2"/>
<line x1="1185.1" y1="1384.5" x2="1107.6" y2="1518.8"/>
<line x1="1261.7" y1="1384.5" x2="1339.2" y2="1518.8"/>
<line x1="1260.4" y1="1318.2" x2="1300.0" y2="1318.2"/>
<line x1="1223.4" y1="1281.2" x2="1223.4" y2="1241.6"/>
<line x1="1186.4" y1="1318.2" x2="1146.8" y2="1318.2"/>
<line x1="1223.4" y1="1355.2" x2="1223.4" y2="1394.8"/>
</g>
<g font-size="21.6" font-weight="bold" fill="#101808">
<text x="1202.6" y="1133.5" textLength="41.6" lengthAdjust="spacingAndGlyphs">1871</text>
<text x="1202.6" y="1211.2" textLength="41.6" lengthAdjust="spacingAndGlyphs">1946</text>
<text x="1035.1" y="1229.9" textLength="41.6" lengthAdjust="spacingAndGlyphs">2033</text>
<text x="1368.8" y="1229.9" textLength="41.6" lengthAdjust="spacingAndGlyphs">1687</text>
<text x="1101.4" y="1269.0" textLength="41.6" lengthAdjust="spacingAndGlyphs">2067</text>
<text x="1302.0" y="1269.0" textLength="41.6" lengthAdjust="spacingAndGlyphs">2033</text>
<text x="1162.2" y="1286.5" textLength="41.6" lengthAdjust="spacingAndGlyphs">2381</text>
<text x="1241.7" y="1286.5" textLength="41.6" lengthAdjust="spacingAndGlyphs">2024</text>
<text x="1202.6" y="1326.3" textLength="41.6" lengthAdjust="spacingAndGlyphs">2157</text>
<text x="1162.2" y="1366.3" textLength="41.6" lengthAdjust="spacingAndGlyphs">2256</text>
<text x="1241.7" y="1366.3" textLength="41.6" lengthAdjust="spacingAndGlyphs">1965</text>
<text x="1101.4" y="1383.8" textLength="41.6" lengthAdjust="spacingAndGlyphs">2290</text>
<text x="1302.0" y="1383.8" textLength="41.6" lengthAdjust="spacingAndGlyphs">1870</text>
<text x="1035.1" y="1422.6" textLength="41.6" lengthAdjust="spacingAndGlyphs">1442</text>
<text x="1368.8" y="1422.6" textLength="41.6" lengthAdjust="spacingAndGlyphs">1873</text>
<text x="1202.6" y="1440.7" textLength="41.6" lengthAdjust="spacingAndGlyphs">1615</text>
<text x="1202.6" y="1518.4" textLength="41.6" lengthAdjust="spacingAndGlyphs">1916</text>
</g>
<g font-size="24" font-weight="bold" fill="#a4a4a8">
<text x="1171.4" y="1072.4" textLength="102.8" lengthAdjust="spacingAndGlyphs">ANT_SEPT</text>
<text x="977.3" y="1198.8" textLength="49.4" lengthAdjust="spacingAndGlyphs">SEPT</text>
<text x="1424.9" y="1198.8" textLength="38.0" lengthAdjust="spacingAndGlyphs">ANT</text>
<text x="986.2" y="1453.2" textLength="31.1" lengthAdjust="spacingAndGlyphs">INF</text>
<text x="1426.8" y="1453.2" textLength="34.6" lengthAdjust="spacingAndGlyphs">LAT</text>
<text x="1196.1" y="1581.2" textLength="53.4" lengthAdjust="spacingAndGlyphs">POST</text>
</g>
<text x="912.3" y="1030.3" font-size="36" font-weight="normal" fill="#fff" text-anchor="start" textLength="366" lengthAdjust="spacingAndGlyphs">Myocardial work index</text>
<text x="1569" y="1113" font-size="37" font-weight="normal" fill="#fff" text-anchor="middle" >3500</text>
<text x="1569" y="1326" font-size="37" font-weight="normal" fill="#fff" text-anchor="middle" >-1000</text>
<text x="1569" y="1370" font-size="37" font-weight="normal" fill="#fff" text-anchor="middle" >mmHg%</text>
<defs><linearGradient id="cbar" x1="0" y1="0" x2="0" y2="1"><stop offset="0" stop-color="#f00"/><stop offset="0.13" stop-color="#f00"/><stop offset="0.17" stop-color="#ff6000"/><stop offset="0.22" stop-color="#ff0"/><stop offset="0.45" stop-color="#0f0"/><stop offset="0.56" stop-color="#00ff40"/><stop offset="0.66" stop-color="#0ff"/><stop offset="0.93" stop-color="#00f"/><stop offset="1" stop-color="#0000d0"/></linearGradient></defs>
<rect x="1555.3" y="1138" width="28.8" height="144.5" fill="url(#cbar)"/>
<g stroke="#fff" stroke-width="1.6" fill="none">
<path d="M226,1701 V2122 M219.5,2116 H1020.5 M219.5,1701 H226 M219.5,1839.4 H226 M219.5,1977.7 H226 M623.2,2116 V2122 M1020.4,2116 V2122"/>
</g>
<rect x="722.2" y="1803" width="100.3" height="313" fill="#00ff00"/>
<rect x="822.5" y="2104.5" width="99" height="11.5" fill="#0000ff"/>
<text x="204" y="1714" font-size="37" font-weight="normal" fill="#fff" text-anchor="end" >3000</text>
<text x="204" y="1852.5" font-size="37" font-weight="normal" fill="#fff" text-anchor="end" >2000</text>
<text x="204" y="1991" font-size="37" font-weight="normal" fill="#fff" text-anchor="end" >1000</text>
<text x="204" y="2129" font-size="37" font-weight="normal" fill="#fff" text-anchor="end" >0</text>
<text x="681" y="2166" font-size="37" font-weight="normal" fill="#fff" text-anchor="start" >Global average</text>
<rect x="278.4" y="2203.4" width="29.4" height="28.8" fill="#00ff00"/>
<rect x="648" y="2203.4" width="29" height="28.8" fill="#0000ff"/>
<text x="322" y="2230" font-size="37" font-weight="normal" fill="#fff" text-anchor="start" >Constructive work</text>
<text x="692" y="2230" font-size="37" font-weight="normal" fill="#fff" text-anchor="start" >Wasted work</text>
<text x="1047.8" y="1733.2" font-size="57.5" font-weight="bold" fill="#fff" text-anchor="start" >GWI = 1798 mmHg%</text>
<text x="1108" y="1831" font-size="37" font-weight="normal" fill="#fff" text-anchor="start" >GLS:</text>
<text x="1258" y="1831" font-size="37" font-weight="normal" fill="#fff" text-anchor="start" >-22.1%</text>
<text x="1108" y="1884" font-size="37" font-weight="normal" fill="#fff" text-anchor="start" >GWI:</text>
<text x="1258" y="1884" font-size="37" font-weight="normal" fill="#fff" text-anchor="start" >1798 mmHg%</text>
<text x="1108" y="1938" font-size="37" font-weight="normal" fill="#fff" text-anchor="start" >GCW:</text>
<text x="1258" y="1938" font-size="37" font-weight="normal" fill="#fff" text-anchor="start" >2066 mmHg%</text>
<text x="1108" y="1991" font-size="37" font-weight="normal" fill="#fff" text-anchor="start" >GWW:</text>
<text x="1258" y="1991" font-size="37" font-weight="normal" fill="#fff" text-anchor="start" >96 mmHg</text>
<text x="1108" y="2044" font-size="37" font-weight="normal" fill="#fff" text-anchor="start" >GWE:</text>
<text x="1258" y="2044" font-size="37" font-weight="normal" fill="#fff" text-anchor="start" >95.6 %</text>
<text x="1108" y="2097" font-size="37" font-weight="normal" fill="#fff" text-anchor="start" >BP:</text>
<text x="1258" y="2097" font-size="37" font-weight="normal" fill="#fff" text-anchor="start" >120/82 mmHg</text>
</svg></body></html>
